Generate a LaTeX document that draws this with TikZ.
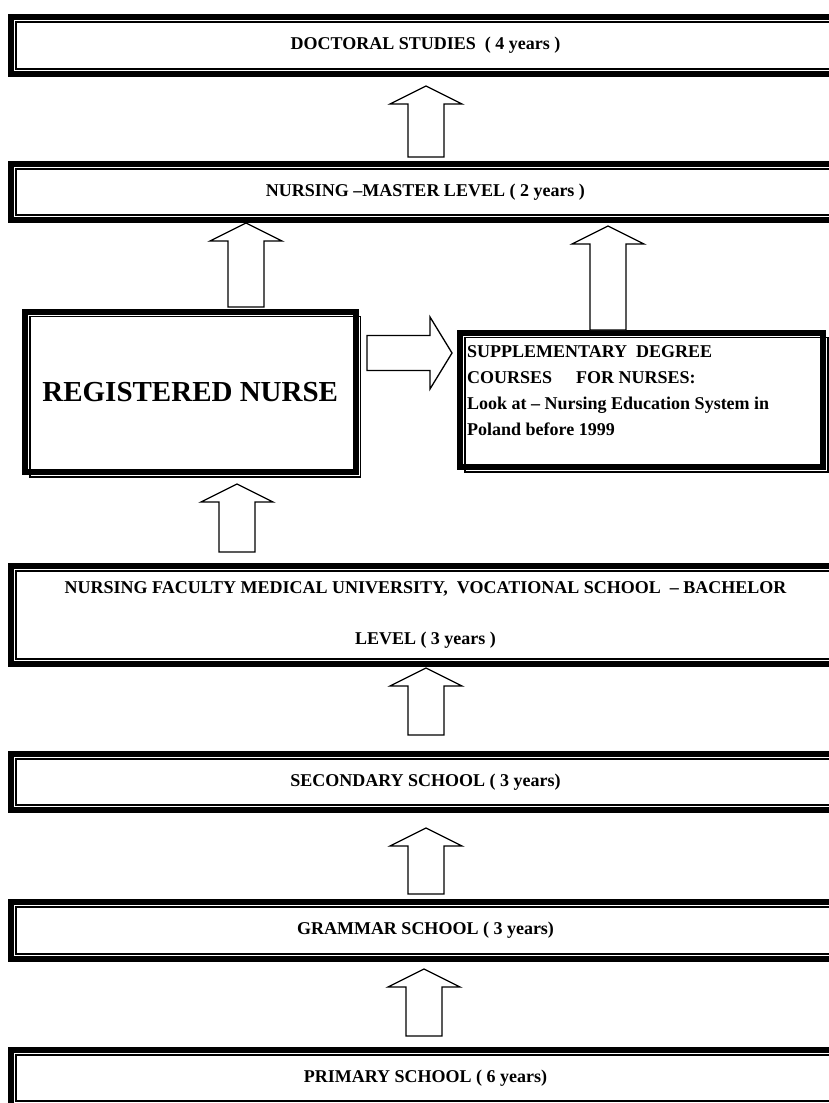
\documentclass[tikz,border=0pt]{standalone}
\usepackage{fontspec}
\setmainfont{Liberation Serif}
\usetikzlibrary{calc}

\tikzset{
  tier/.style={draw, line width=6pt, outer sep=0pt, inner sep=0pt,
    minimum width=829pt, font=\fontsize{18}{22}\selectfont\bfseries},
  panel/.style={draw, line width=6pt, outer sep=0pt, inner sep=0pt},
  blockarrow/.style={draw, fill=white, line width=1.3pt, line join=miter},
}

\begin{document}
\begin{tikzpicture}[x=1pt, y=-1pt]
  \useasboundingbox (0,0) rectangle (829,1103);
  \clip (0,0) rectangle (829,1103);
  \fill[white] (0,0) rectangle (829,1103);

  % levels, top to bottom
  \node[tier, minimum height=57pt] (doc) at (425.5,45.5) {DOCTORAL STUDIES \ ( 4 years )};
  \node[tier, minimum height=56pt] (mas) at (425.5,192) {NURSING –MASTER LEVEL ( 2 years )};
  \node[tier, minimum height=98pt, align=center, font=\fontsize{18}{51}\selectfont\bfseries] (bach) at (425.5,615)
    {NURSING FACULTY MEDICAL UNIVERSITY,\ \ VOCATIONAL SCHOOL \ – BACHELOR\\ LEVEL ( 3 years )};
  \node[tier, minimum height=56pt] (sec) at (425.5,782) {SECONDARY SCHOOL ( 3 years)};
  \node[tier, minimum height=57pt] (gram) at (425.5,930.5) {GRAMMAR SCHOOL ( 3 years)};
  \node[tier, minimum height=56pt] (prim) at (425.5,1078) {PRIMARY SCHOOL ( 6 years)};

  % side boxes
  \node[panel, minimum width=330.5pt, minimum height=160.5pt, font=\fontsize{29}{34}\selectfont\bfseries] (rn)
    at (190.25,391.75) {REGISTERED NURSE};
  \node[panel, minimum width=363pt, minimum height=134.5pt] (supp) at (641.5,399.75) {};
  \node[anchor=west, align=left, inner sep=3pt, font=\fontsize{18}{26}\selectfont\bfseries] (supptxt) at (464,391)
    {SUPPLEMENTARY\ \ DEGREE\\ COURSES\hspace{24pt}FOR NURSES:\\ Look at – Nursing Education System in\\ Poland before 1999};

  % thin inner rules
  \foreach \n in {doc,mas,bach,sec,gram,prim}{
    \draw[line width=1.5pt] ($(\n.north west)+(5,5)$) rectangle ($(\n.south east)+(-5,-5)$);
  }
  \foreach \n in {rn,supp}{
    \draw[line width=1.5pt] ($(\n.north west)+(5,5)$) rectangle ($(\n.south east)+(5,5)$);
  }

  % upward block arrows: x, tip, tail
  \foreach \x/\t/\b in {426/86/157, 246/223/307, 608/226/330, 237/484/552,
                        426/668/735, 426/828/894, 424/969/1036}{
    \draw[blockarrow] (\x-18,\b) -- (\x-18,\t+18) -- (\x-36,\t+18) -- (\x,\t)
      -- (\x+36,\t+18) -- (\x+18,\t+18) -- (\x+18,\b) -- cycle;
  }
  % arrow to the supplementary courses
  \draw[blockarrow] (367,335.5) -- (430,335.5) -- (430,317) -- (452,353)
    -- (430,389) -- (430,370.5) -- (367,370.5) -- cycle;
\end{tikzpicture}
\end{document}
